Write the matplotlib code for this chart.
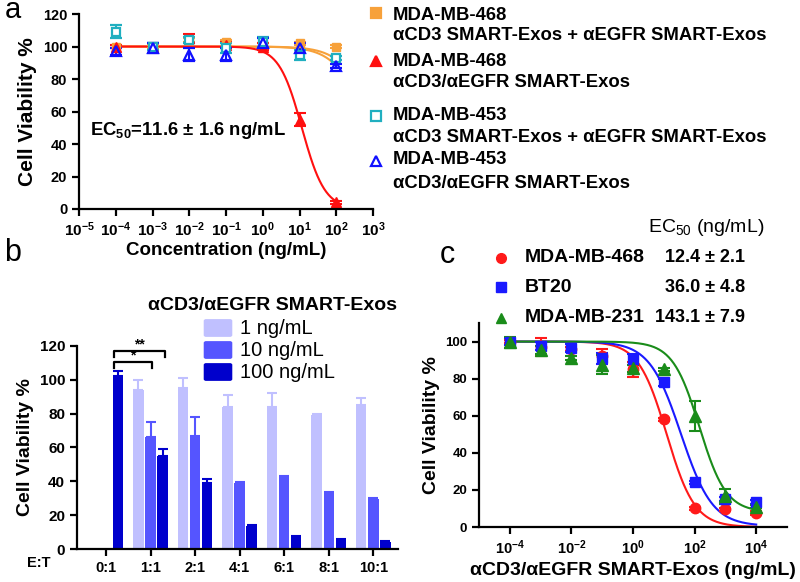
import numpy as np
import matplotlib.pyplot as plt
from matplotlib.lines import Line2D
from matplotlib.patches import FancyBboxPatch

plt.rcParams['font.family'] = ['Liberation Sans', 'DejaVu Sans']
plt.rcParams['mathtext.fontset'] = 'custom'
plt.rcParams['mathtext.rm'] = 'Liberation Sans'
plt.rcParams['mathtext.bf'] = 'Liberation Sans:bold'
plt.rcParams['mathtext.default'] = 'bf'

# ---- panel a data ----
conc_a = [1e-4, 1e-3, 1e-2, 1e-1, 1e0, 1e1, 1e2]
mb468_mix = [100, 100, 104, 103, 101, 102, 100]
mb468_mix_err = [1, 1, 1, 1, 1, 1, 1]
mb468_bi = [100, 100, 105, 101, 100, 55, 4]
mb468_bi_err = [1, 2, 3, 2, 2, 4, 1]
mb453_mix = [109, 100, 104, 99, 103, 95, 93]
mb453_mix_err = [4, 2, 2, 3, 3, 3, 1]
mb453_bi = [97, 99, 95, 95, 102, 99, 88]
mb453_bi_err = [2, 3, 4, 4, 3, 3, 1]
ec50_a = 11.6
hill_a = 1.4
flat_fit_ec50 = [1150, 735]
exp_a = list(range(-5, 4))

legend_a = ['MDA-MB-468', 'αCD3 SMART-Exos + αEGFR SMART-Exos',
            'MDA-MB-468', 'αCD3/αEGFR SMART-Exos',
            'MDA-MB-453', 'αCD3 SMART-Exos + αEGFR SMART-Exos',
            'MDA-MB-453', 'αCD3/αEGFR SMART-Exos']

# ---- panel b data ----
et_ratios = ['0:1', '1:1', '2:1', '4:1', '6:1', '8:1', '10:1']
via_1 = [np.nan, 94, 95, 84, 84, 79, 85]
via_1_err = [0, 6, 6, 7, 8, 1, 4.5]
via_10 = [np.nan, 66, 67, 39, 42.5, 33, 29.5]
via_10_err = [0, 9, 11, 0.5, 0.5, 0.5, 0.5]
via_100 = [102, 55, 39, 13.5, 7, 5.5, 4]
via_100_err = [3, 4, 2.5, 0.5, 0.5, 0.5, 0.5]
dose_labels = ['1 ng/mL', '10 ng/mL', '100 ng/mL']

# ---- panel c data ----
conc_c = [1e-4, 1e-3, 1e-2, 1e-1, 1e0, 1e1, 1e2, 1e3, 1e4]
c_468 = [100, 97, 96, 92, 85, 58, 10, 9.5, 7.5]
c_468_err = [1, 5, 1, 4, 4, 1, 1, 1, 1]
c_bt20 = [100, 97.5, 96.5, 91, 90.5, 78, 24, 15, 13.5]
c_bt20_err = [2, 2, 2, 3, 3, 2, 1, 1, 1]
c_231 = [99.5, 95.5, 91, 87.5, 85.5, 85, 60, 16.5, 11]
c_231_err = [3, 2, 1, 5, 2, 1, 8, 4, 1]
lines_c = ['MDA-MB-468', 'BT20', 'MDA-MB-231']
ec50_c = ['12.4 ± 2.1', '36.0 ± 4.8', '143.1 ± 7.9']
fit_c = [(100, 0, 12.4, 0.95), (100, 0.5, 36.0, 0.85), (100, 8, 143.1, 1.0)]
exp_c = [-4, -2, 0, 2, 4]


def hill(x, top, bottom, ec, h):
    return bottom + (top - bottom) / (1 + (x / ec) ** h)


def pow_labels(exps):
    return [r'$\mathbf{10^{%d}}$' % k for k in exps]


def style_axes(ax, size):
    for s in ['top', 'right']:
        ax.spines[s].set_visible(False)
    for s in ['left', 'bottom']:
        ax.spines[s].set_linewidth(1.6)
    ax.tick_params(width=1.6, length=5, labelsize=size)
    for lab in ax.get_xticklabels() + ax.get_yticklabels():
        lab.set_fontweight('bold')


def fy(ypx):
    return 1 - ypx / 582


fig = plt.figure(figsize=(8, 5.82), dpi=100)

# ================= panel a =================
ax = fig.add_axes([0.09875, 0.6409, 0.3675, 0.335])
orange, red, cyan, blue = '#F7A13A', '#FF1010', '#20AFC0', '#1010FF'
xs = np.logspace(-4, 2, 200)
ax.plot(xs, hill(xs, 100, 0, flat_fit_ec50[0], 1), color=orange, lw=1.5)
ax.plot(xs, hill(xs, 100, 0, flat_fit_ec50[1], 1), color=orange, lw=1.5)
ax.plot(xs, hill(xs, 100, 0, ec50_a, hill_a), color=red, lw=1.5)
ebkw = dict(capsize=4, elinewidth=1.5, capthick=1.5)
ax.errorbar(conc_a, mb468_mix, yerr=mb468_mix_err, fmt='s', color=orange, ms=6, **ebkw)
ax.errorbar(conc_a, mb468_bi, yerr=mb468_bi_err, fmt='^', color=red, ms=7, **ebkw)
ax.errorbar(conc_a, mb453_mix, yerr=mb453_mix_err, fmt='s', color=cyan, ms=6,
            mfc='white', mew=1.6, **ebkw)
ax.errorbar(conc_a, mb453_bi, yerr=mb453_bi_err, fmt='^', color=blue, ms=7,
            mfc='none', mew=1.6, **ebkw)
ax.set_xscale('log')
ax.set_xlim(1e-5, 1e3)
ax.set_ylim(0, 120)
ax.set_xticks([10.0 ** k for k in exp_a])
ax.set_xticklabels(pow_labels(exp_a))
ax.minorticks_off()
ax.set_yticks(range(0, 121, 20))
ax.set_xlabel('Concentration (ng/mL)', fontsize=13.5, fontweight='bold', labelpad=2)
ax.set_ylabel('Cell Viability %', fontsize=15, fontweight='bold', labelpad=4)
style_axes(ax, 10.5)
ax.tick_params(axis='x', labelsize=11)
ax.text(1.95e-5, 48.6, r'EC$_{50}$=11.6 ± 1.6 ng/mL', fontsize=13.3,
        fontweight='bold', va='center')

# legend a
leg_marks = [('s', orange, orange, 13), ('^', red, red, 61),
             ('s', cyan, 'white', 116), ('^', blue, 'none', 161)]
for m, c, fc, ypx in leg_marks:
    fig.add_artist(Line2D([376 / 800], [fy(ypx)], marker=m, color=c,
                          mfc=fc, mew=1.6, ms=6.5, transform=fig.transFigure))
legend_y = [15, 36, 62, 83, 115, 137, 160, 183]
for txt, ypx in zip(legend_a, legend_y):
    fig.text(393 / 800, fy(ypx), txt, fontsize=13.3, va='center', fontweight='bold')

fig.text(5 / 800, fy(18), 'a', fontsize=21, va='baseline')
fig.text(4 / 800, fy(261), 'b', fontsize=22, va='baseline')
fig.text(440 / 800, fy(263), 'c', fontsize=22, va='baseline')

# ================= panel b =================
ax = fig.add_axes([0.09625, 0.0567, 0.401, 0.3488])
c1, c10, c100 = '#C0C0FF', '#5555FF', '#0000CC'
pos = np.arange(len(et_ratios))
w, off = 0.235, 0.27
for vals, errs, col, dx in [(via_1, via_1_err, c1, -off),
                            (via_10, via_10_err, c10, 0),
                            (via_100, via_100_err, c100, off)]:
    v = np.array(vals, dtype=float)
    e = np.array(errs, dtype=float)
    ax.bar(pos + dx, v, width=w, color=col)
    ok = ~np.isnan(v)
    ax.errorbar(pos[ok] + dx, v[ok], yerr=[np.zeros(ok.sum()), e[ok]], fmt='none',
                ecolor=col, capsize=3.5, elinewidth=1.5, capthick=1.5)
ax.set_xlim(-0.65, 6.55)
ax.set_ylim(0, 120)
ax.set_yticks(range(0, 121, 20))
ax.set_xticks(pos)
ax.set_xticklabels(et_ratios)
ax.set_ylabel('Cell Viability %', fontsize=14, fontweight='bold')
style_axes(ax, 11)
ax.tick_params(axis='x', labelsize=10.5)
for lab in ax.get_xticklabels():
    lab.set_fontweight('bold')
fig.text(27 / 800, fy(563), 'E:T', fontsize=10.5, fontweight='bold', va='center')
# significance brackets
x0 = 0 + off - 0.1
for x1, yb, star in [(1 + 0.04, 110.5, '*'), (1 + off + 0.06, 117, '**')]:
    ax.plot([x0, x0, x1, x1], [yb - 3.5, yb, yb, yb - 3.5], color='black',
            lw=1.6, clip_on=False)
    ax.text((x0 + x1) / 2, yb - 0.5, star, ha='center', va='bottom',
            fontsize=10, fontweight='bold')
# legend b
fig.text(148 / 800, fy(305), 'αCD3/αEGFR SMART-Exos', fontsize=14,
         fontweight='bold', va='center')
for lab, col, ypx in zip(dose_labels, [c1, c10, c100], [328, 350, 372]):
    fig.add_artist(FancyBboxPatch((206 / 800, fy(ypx + 7)), 24 / 800, 14 / 582,
                                  boxstyle='round,pad=0.002', color=col,
                                  transform=fig.transFigure))
    fig.text(240 / 800, fy(ypx), lab, fontsize=14.5, va='center')

# ================= panel c =================
ax = fig.add_axes([0.59875, 0.0945, 0.385, 0.3505])
cr, cb, cg = '#FF1A1A', '#1A1AFF', '#1A8C1A'
xs = np.logspace(-4, 4, 300)
for (top, bot, ec, h), col in zip(fit_c, [cr, cb, cg]):
    ax.plot(xs, hill(xs, top, bot, ec, h), color=col, lw=1.5)
for vals, errs, col, m, ms in [(c_468, c_468_err, cr, 'o', 7.5),
                               (c_bt20, c_bt20_err, cb, 's', 7.5),
                               (c_231, c_231_err, cg, '^', 8)]:
    ax.errorbar(conc_c, vals, yerr=errs, fmt=m, color=col, ms=ms, **ebkw)
ax.set_xscale('log')
ax.set_xlim(1e-5, 1e5)
ax.set_ylim(0, 110)
ax.set_xticks([10.0 ** k for k in exp_c])
ax.set_xticklabels(pow_labels(exp_c))
ax.minorticks_off()
ax.set_yticks(range(0, 101, 20))
ax.set_xlabel('αCD3/αEGFR SMART-Exos (ng/mL)', fontsize=14, fontweight='bold', labelpad=3)
ax.set_ylabel('Cell Viability %', fontsize=14, fontweight='bold')
style_axes(ax, 9.5)
ax.tick_params(axis='x', labelsize=10.5)
# legend c
fig.text(648 / 800, fy(228), r'EC$_{\mathrm{50}}$ (ng/mL)', fontsize=14, va='center')
for lab, val, col, m, ypx in zip(lines_c, ec50_c, [cr, cb, cg], ['o', 's', '^'],
                                 [258, 287, 318]):
    fig.add_artist(Line2D([501 / 800], [fy(ypx)], marker=m, color=col,
                          ms=7, transform=fig.transFigure))
    fig.text(525 / 800, fy(ypx), lab, fontsize=14, va='center', fontweight='bold')
    fig.text(745 / 800, fy(ypx), val, fontsize=13, va='center', ha='right',
             fontweight='bold')

fig.savefig('out.png', dpi=100)
